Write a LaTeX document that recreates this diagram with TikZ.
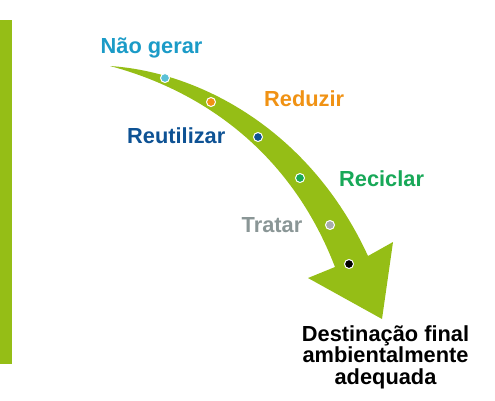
\documentclass[tikz,border=0pt]{standalone}
\usepackage{fontspec}
\setmainfont{Liberation Sans}
\definecolor{leaf}{RGB}{149,190,22}
\definecolor{cNao}{RGB}{27,155,199}
\definecolor{cNaoDot}{RGB}{90,192,214}
\definecolor{cRed}{RGB}{240,146,20}
\definecolor{cReu}{RGB}{14,82,148}
\definecolor{cRec}{RGB}{24,168,88}
\definecolor{cTra}{RGB}{138,150,150}
\definecolor{cTraDot}{RGB}{168,172,172}
\begin{document}
\begin{tikzpicture}[x=1pt,y=-1pt,
  lbl/.style={anchor=base west,inner sep=0pt,font=\bfseries\fontsize{21.8}{21.8}\selectfont},
  stepdot/.style={circle,inner sep=0pt,minimum size=9pt,draw=white,line width=1pt}]
\useasboundingbox (0,0) rectangle (495,400);
% left bar
\fill[leaf] (0,20) rectangle (12,364);
% arrow
\fill[leaf] (110,66) .. controls (200,72) and (310,130) .. (368,256)
  -- (393,242) -- (382,319) -- (308,278) -- (335,267)
  .. controls (290,150) and (200,90) .. (110,66) -- cycle;
% dots
\node[stepdot,fill=cNaoDot] (d1) at (165,78) {};
\node[stepdot,fill=cRed] (d2) at (211,102) {};
\node[stepdot,fill=cReu] (d3) at (258,137) {};
\node[stepdot,fill=cRec] (d4) at (300,178) {};
\node[stepdot,fill=cTraDot] (d5) at (330,225) {};
\node[stepdot,fill=black] (d6) at (349,264) {};
% labels
\node[lbl,text=cNao] (t1) at (100.5,53.3) {Não gerar};
\node[lbl,text=cRed] (t2) at (264,106) {Reduzir};
\node[lbl,text=cReu] (t3) at (127,143.3) {Reutilizar};
\node[lbl,text=cRec] (t4) at (339,186) {Reciclar};
\node[lbl,text=cTra] (t5) at (241.5,232.5) {Tratar};
\node[anchor=north,inner sep=0pt,align=center,font=\bfseries\fontsize{21.8}{21.6}\selectfont] (t6) at (385.5,325)
  {Destinação final\\ambientalmente\\adequada};
\end{tikzpicture}
\end{document}
